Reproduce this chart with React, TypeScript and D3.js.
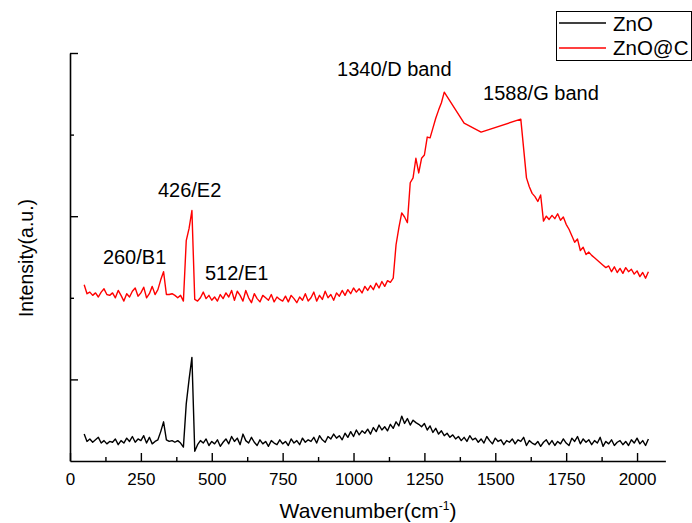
import React, { useEffect, useRef } from "react";
import * as d3 from "d3";

// raman spectra, intensity in arbitrary units
const wavenumbers = [
  50, 60, 70, 80, 90, 100, 110, 120, 130, 140,
  150, 160, 170, 180, 190, 200, 210, 220, 230, 240,
  250, 260, 270, 280, 290, 300, 310, 320, 330, 340,
  350, 360, 370, 380, 390, 400, 410, 420, 430, 440,
  450, 460, 470, 480, 490, 500, 510, 520, 530, 540,
  550, 560, 570, 580, 590, 600, 610, 620, 630, 640,
  650, 660, 670, 680, 690, 700, 710, 720, 730, 740,
  750, 760, 770, 780, 790, 800, 810, 820, 830, 840,
  850, 860, 870, 880, 890, 900, 910, 920, 930, 940,
  950, 960, 970, 980, 990, 1000, 1010, 1020, 1030, 1040,
  1050, 1060, 1070, 1080, 1090, 1100, 1110, 1120, 1130, 1140,
  1150, 1160, 1170, 1180, 1190, 1200, 1210, 1220, 1230, 1240,
  1250, 1260, 1270, 1280, 1290, 1300, 1310, 1320, 1330, 1340,
  1350, 1360, 1370, 1380, 1390, 1400, 1410, 1420, 1430, 1440,
  1450, 1460, 1470, 1480, 1490, 1500, 1510, 1520, 1530, 1540,
  1550, 1560, 1570, 1580, 1590, 1600, 1610, 1620, 1630, 1640,
  1650, 1660, 1670, 1680, 1690, 1700, 1710, 1720, 1730, 1740,
  1750, 1760, 1770, 1780, 1790, 1800, 1810, 1820, 1830, 1840,
  1850, 1860, 1870, 1880, 1890, 1900, 1910, 1920, 1930, 1940,
  1950, 1960, 1970, 1980, 1990, 2000, 2010, 2020, 2030, 2040,
];

const znoIntensity = [
  33, 24, 27, 23, 26, 29, 22, 25, 21, 24,
  23, 27, 20, 25, 22, 28, 24, 30, 23, 27,
  25, 31, 22, 29, 21, 24, 26, 36, 48, 26,
  24, 25, 23, 25, 22, 17, 70, 100, 127, 12,
  20, 25, 22, 27, 19, 24, 21, 26, 18, 23,
  27, 21, 30, 24, 28, 20, 33, 25, 22, 29,
  23, 19, 26, 21, 24, 18, 25, 22, 20, 26,
  21, 24, 19, 27, 22, 25, 20, 28, 23, 26,
  24, 29, 22, 31, 26, 23, 30, 27, 33, 28,
  31, 26, 34, 29, 36, 30, 38, 32, 37, 34,
  39, 33, 41, 36, 44, 38, 42, 37, 45, 40,
  48, 43, 55, 46, 52, 44, 50, 47, 45, 42,
  46, 38, 43, 35, 40, 33, 37, 31, 34, 29,
  32, 27, 30, 25, 29, 24, 31, 26, 28, 23,
  27, 22, 30, 25, 21, 28, 24, 26, 20, 25,
  23, 27, 21, 26, 24, 29, 19, 25, 22, 20,
  24, 18, 23, 26, 20, 25, 19, 24, 21, 27,
  22, 19, 28, 24, 30, 21, 27, 23, 26, 20,
  25, 22, 29, 18, 24, 21, 26, 19, 23, 25,
  20, 24, 19, 26, 22, 28, 21, 25, 19, 27,
];

// null = no measured point (the line just jumps over)
const zncIntensity = [
  216, 205, 207, 203, 206, 201, 207, 211, 204, 203,
  206, 200, 209, 203, 196, 205, 201, 208, 212, 202,
  206, 213, 200, 205, 214, 204, 210, 222, 232, 204,
  204, 205, 203, 200, 203, 196, 270, 285, 307, 198,
  196, 200, 207, 199, 203, 197, 201, 196, 204, 199,
  206, 201, 209, 197, 208, 203, 196, 209, 200, 194,
  205, 199, 195, 203, 200, 197, 204, 195, 201, 198,
  196, 202, 195, 203, 199, 194, 201, 197, 205, 196,
  200, 207, 196, 203, 198, 208, 200, 204, 197, 206,
  202, 209, 203, 210, 205, 212, 207, 211, 206, 214,
  209, 215, 210, 218, 212, 220, 214, 221, 219, 224,
  265, 286, 304, 299, 292, 341, 347, 371, 353, 371,
  375, 397, 396, 408, 420, 430, 439, 452, null, null,
  null, null, null, null, 414, null, null, null, null, null,
  403, null, null, null, null, null, null, null, null, null,
  null, null, null, null, 419, null, 347, 336, 328, 324,
  318, 326, 294, 300, 296, 301, 297, 303, 295, 299,
  290, 284, 276, 268, 272, 258, 262, 253, 256, 252,
  249, 246, 243, 240, 237, 239, 232, 238, 231, 236,
  230, 237, 232, 235, 229, 233, 226, 231, 224, 232,
];

const seriesNames = ["ZnO", "ZnO@C"];
const seriesColors = ["#000000", "#ff0000"];

const xMajorTicks = [0, 250, 500, 750, 1000, 1250, 1500, 1750, 2000];
const xMinorTicks = [125, 375, 625, 875, 1125, 1375, 1625, 1875];
const yMajorTicks = [100, 300, 500];
const yMinorTicks = [200, 400];

const peakLabels = ["260/B1", "426/E2", "512/E1", "1340/D band", "1588/G band"];

const FONT = "'Liberation Sans', Arial, sans-serif";

function App() {
  const ref = useRef(null);

  useEffect(() => {
    const svg = d3.select(ref.current);
    svg.selectAll("*").remove();

    const x = d3.scaleLinear().domain([0, 2100]).range([70, 665.4]);
    const y = d3.scaleLinear().domain([0, 500]).range([461, 53]);

    // axes, ticks point inward
    const xAxis = svg.append("g").attr("transform", "translate(0,461)");
    xAxis
      .call(
        d3.axisBottom(x).tickValues(xMajorTicks).tickSizeInner(-8).tickSizeOuter(0).tickPadding(12)
          .tickFormat((d) => String(d))
      );
    svg.append("g").attr("transform", "translate(0,461)")
      .call(d3.axisBottom(x).tickValues(xMinorTicks).tickSizeInner(-4).tickSizeOuter(0).tickFormat(() => ""))
      .select(".domain").remove();

    const yAxis = svg.append("g").attr("transform", "translate(70,0)");
    yAxis.call(d3.axisLeft(y).tickValues(yMajorTicks).tickSizeInner(-8).tickSizeOuter(0).tickFormat(() => ""));
    svg.append("g").attr("transform", "translate(70,0)")
      .call(d3.axisLeft(y).tickValues(yMinorTicks).tickSizeInner(-4).tickSizeOuter(0).tickFormat(() => ""))
      .select(".domain").remove();

    svg.selectAll(".domain").attr("stroke", "#000").attr("stroke-width", 1.6);
    svg.selectAll(".tick line").attr("stroke", "#000").attr("stroke-width", 1.4);
    svg.selectAll(".tick text")
      .attr("font-family", FONT)
      .attr("font-size", 17)
      .attr("fill", "#000");

    const line = d3
      .line<[number, number]>()
      .x((d) => x(d[0]))
      .y((d) => y(d[1]));

    [znoIntensity, zncIntensity].forEach((vals, i) => {
      const pts = wavenumbers
        .map((w, j) => [w, vals[j]])
        .filter((d) => d[1] != null) as [number, number][];
      svg.append("path")
        .datum(pts)
        .attr("d", line)
        .attr("fill", "none")
        .attr("stroke", seriesColors[i])
        .attr("stroke-width", 1.4)
        .attr("stroke-linejoin", "round");
    });

    // peak annotations, anchored in data units
    const labelAnchors = [
      [116, 241],
      [310, 323],
      [476, 222],
      [942, 472],
      [1457, 442],
    ];
    svg.selectAll(".peak")
      .data(peakLabels)
      .join("text")
      .attr("class", "peak")
      .attr("x", (d, i) => x(labelAnchors[i][0]))
      .attr("y", (d, i) => y(labelAnchors[i][1]))
      .attr("font-family", FONT)
      .attr("font-size", 20)
      .text((d) => d);

    // axis titles
    const xt = svg.append("text")
      .attr("x", 368)
      .attr("y", 518)
      .attr("text-anchor", "middle")
      .attr("font-family", FONT)
      .attr("font-size", 21);
    xt.append("tspan").text("Wavenumber(cm");
    xt.append("tspan").attr("dy", -8).attr("font-size", 12).text("-1");
    xt.append("tspan").attr("dy", 8).text(")");

    svg.append("text")
      .attr("transform", "translate(33,258) rotate(-90)")
      .attr("text-anchor", "middle")
      .attr("font-family", FONT)
      .attr("font-size", 19.5)
      .text("Intensity(a.u.)");

    // legend
    const lg = svg.append("g");
    lg.append("rect")
      .attr("x", 556.5).attr("y", 11.5).attr("width", 135).attr("height", 49)
      .attr("fill", "#fff").attr("stroke", "#000").attr("stroke-width", 1);
    seriesNames.forEach((name, i) => {
      lg.append("line")
        .attr("x1", 559).attr("x2", 606)
        .attr("y1", 23 + i * 25).attr("y2", 23 + i * 25)
        .attr("stroke", seriesColors[i]).attr("stroke-width", 1.6);
      lg.append("text")
        .attr("x", 613).attr("y", 31 + i * 24)
        .attr("font-family", FONT)
        .attr("font-size", 20.5)
        .text(name);
    });
  }, []);

  return (
    <svg
      ref={ref}
      width={692}
      height={523}
      style={{ position: "absolute", left: 0, top: 0, background: "#fff" }}
    />
  );
}

export default App;
